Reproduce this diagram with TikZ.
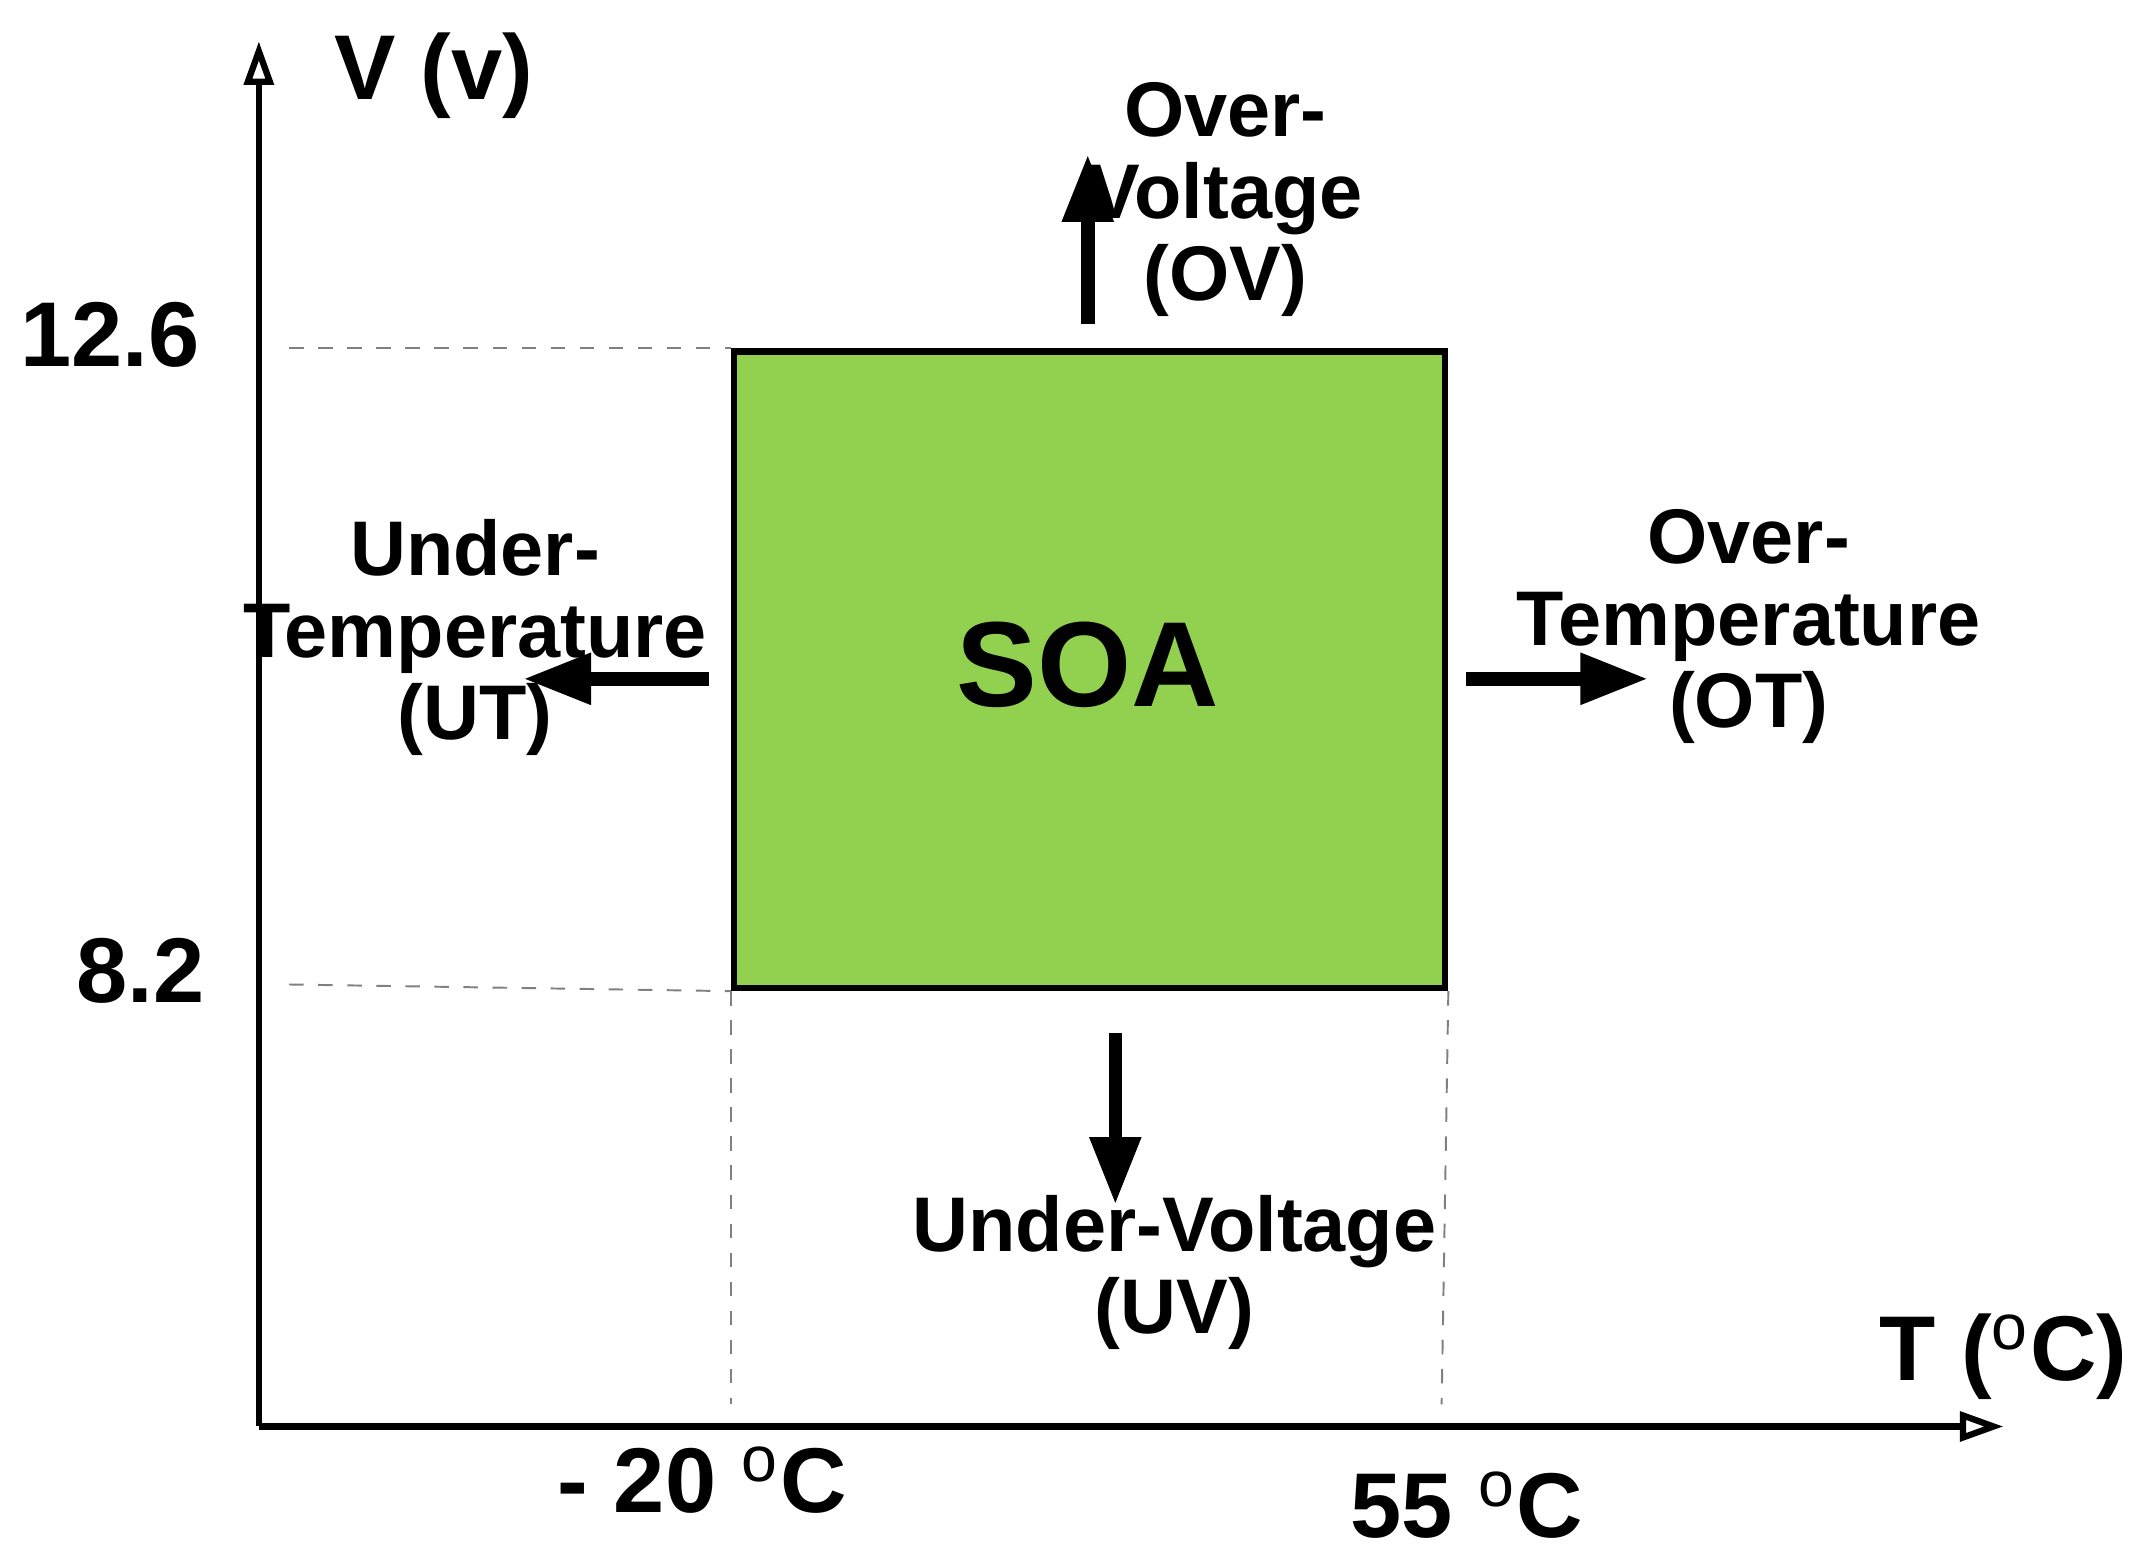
\documentclass[tikz,border=0pt]{standalone}
\usepackage{fontspec}
\setmainfont{Liberation Sans}
\usetikzlibrary{arrows.meta}
\definecolor{soa}{HTML}{92D050}
\tikzset{
 lbl/.style={font=\bfseries\fontsize{16}{17}\selectfont, align=center, inner sep=0pt},
 big/.style={font=\bfseries\fontsize{19}{21}\selectfont, inner sep=0pt},
 thk/.style={line width=2.8pt, -{Triangle[length=14pt,width=10pt]}},
 guide/.style={dashed, gray, line width=0.4pt},
 axis/.style={line width=1.3pt, -{Triangle[length=9pt,width=6pt,open]}}
}
\begin{document}
\begin{tikzpicture}[x=0.01cm,y=-0.01cm]
\useasboundingbox (0,0) rectangle (1560,1134);
\coordinate (o) at (188,1036);
\coordinate (ytop) at (188,30);
\coordinate (xend) at (1455,1036);
\draw[axis] (o) -- (ytop);
\draw[axis] (o) -- (xend);
\node[draw, line width=1.3pt, fill=soa, minimum width=5.16cm, minimum height=4.62cm, anchor=north west] (box) at (531,253) {};
\node[font=\bfseries\fontsize{25}{27}\selectfont] (soa) at (790,483) {SOA};
\coordinate (d1) at (210,253); \coordinate (d2) at (210,715);
\coordinate (d3) at (531,1020); \coordinate (d4) at (1047,1020);
\draw[guide] (d1) -- (box.north west);
\draw[guide] (d2) -- (box.south west);
\draw[guide] (box.south west) -- (d3);
\draw[guide] (box.south east) -- (d4);
\node[big] (vl) at (315,55) {V (v)};
\node[big] (t1) at (80,243) {12.6};
\node[big] (t2) at (102,705) {8.2};
\node[big] (tl) at (1455,985) {T ($^{\mathrm{o}}$C)};
\node[big] (m20) at (510,1075) {- 20 $^{\mathrm{o}}$C};
\node[big] (p55) at (1065,1093) {55 $^{\mathrm{o}}$C};
\coordinate (a1) at (790,235); \coordinate (a2) at (790,112);
\coordinate (b1) at (515,493); \coordinate (b2) at (380,493);
\coordinate (c1) at (1065,493); \coordinate (c2) at (1197,493);
\coordinate (e1) at (810,750); \coordinate (e2) at (810,875);
\draw[thk] (a1) -- (a2);
\draw[thk] (b1) -- (b2);
\draw[thk] (c1) -- (c2);
\draw[thk] (e1) -- (e2);
\node[lbl] (ov) at (890,145) {Over-\\Voltage\\(OV)};
\node[lbl] (ut) at (345,463) {Under-\\Temperature\\(UT)};
\node[lbl] (ot) at (1270,455) {Over-\\Temperature\\(OT)};
\node[lbl] (uv) at (853,924) {Under-Voltage\\(UV)};
\end{tikzpicture}
\end{document}
